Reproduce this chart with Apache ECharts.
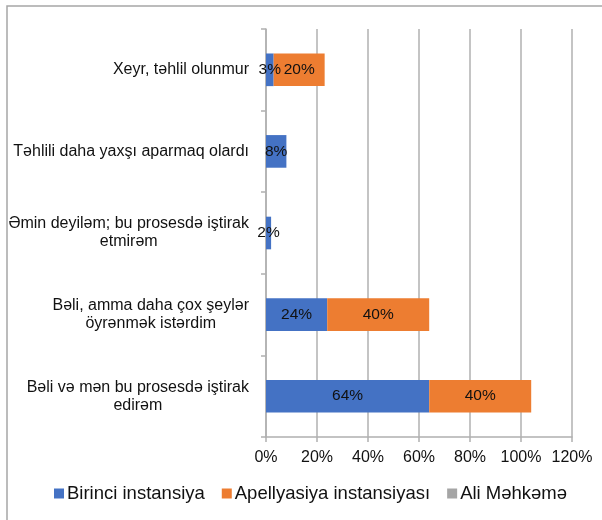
<!DOCTYPE html>
<html>
<head>
<meta charset="utf-8">
<script src="https://cdn.jsdelivr.net/npm/echarts@6/dist/echarts.min.js"></script>
<style>
  html, body { margin: 0; padding: 0; background: #fff; }
  #chart { width: 602px; height: 520px; }
</style>
</head>
<body>
<div id="chart"></div>
<script>
// Answer categories, listed bottom to top as the category axis draws them
const categories = [
  'Bəli və mən bu prosesdə iştirak\nedirəm',
  'Bəli, amma daha çox şeylər\nöyrənmək istərdim',
  'Əmin deyiləm; bu prosesdə iştirak\netmirəm',
  'Təhlili daha yaxşı aparmaq olardı',
  'Xeyr, təhlil olunmur'
];

// Series names
const seriesNames = ['Birinci instansiya', 'Apellyasiya instansiyası', 'Ali Məhkəmə'];

// Percent shares per court level (null = no answer recorded)
const birinciValues = [64, 24, 2, 8, 3];
const apellyasiyaValues = [40, 40, null, null, 20];
const aliValues = [null, null, null, null, null];

// Value axis ticks
const axisMin = 0;
const axisMax = 120;
const axisStep = 20;

const FONT = "'Liberation Sans', Arial, sans-serif";
const TEXT = '#111111';
const GRID = '#b0b0b0';
const colors = ['#4472C4', '#ED7D31', '#A5A5A5'];

const chart = echarts.init(document.getElementById('chart'), null, { renderer: 'canvas' });

function makeSeries(name, values, color) {
  return {
    name: name,
    type: 'bar',
    stack: 'total',
    data: values,
    barCategoryGap: '60%',
    itemStyle: { color: color },
    label: {
      show: true,
      position: 'inside',
      color: TEXT,
      fontFamily: FONT,
      fontSize: 15.5,
      formatter: function (p) {
        return (p.value === null || p.value === undefined || p.value === 0) ? '' : p.value + '%';
      }
    },
    emphasis: { disabled: true }
  };
}

chart.setOption({
  animation: false,
  backgroundColor: '#ffffff',
  textStyle: { fontFamily: FONT },
  color: colors,
  grid: { left: 266, right: 30, top: 29, bottom: 83, containLabel: false },
  legend: {
    data: seriesNames,
    top: 484,
    left: 54,
    padding: [0, 0, 0, 0],
    icon: 'rect',
    itemWidth: 10,
    itemHeight: 10,
    itemGap: 17,
    textStyle: { fontFamily: FONT, fontSize: 18.5, color: TEXT, padding: [0, 0, 0, -2] }
  },
  xAxis: {
    type: 'value',
    min: axisMin,
    max: axisMax,
    interval: axisStep,
    axisLine: { show: true, lineStyle: { color: GRID, width: 1.5 } },
    axisTick: { show: true, length: 5, lineStyle: { color: GRID, width: 1.5 } },
    splitLine: { show: true, lineStyle: { color: GRID, width: 1.5 } },
    axisLabel: {
      formatter: '{value}%',
      fontFamily: FONT,
      fontSize: 16,
      color: TEXT,
      margin: 13
    }
  },
  yAxis: {
    type: 'category',
    data: categories,
    axisLine: { show: true, lineStyle: { color: GRID, width: 1.5 } },
    axisTick: { show: true, length: 5, lineStyle: { color: GRID, width: 1.5 } },
    splitLine: { show: false },
    axisLabel: {
      margin: 17,
      align: 'right',
      fontFamily: FONT,
      fontSize: 16,
      color: TEXT,
      lineHeight: 18,
      formatter: function (v) {
        return v.split('\n').map(function (l) { return '{c|' + l + '}'; }).join('\n');
      },
      rich: {
        c: { align: 'center', fontFamily: FONT, fontSize: 16, color: TEXT, lineHeight: 18 }
      }
    }
  },
  graphic: [
    {
      type: 'rect',
      silent: true,
      z: -1,
      shape: { x: 7, y: 6, width: 700, height: 600 },
      style: { fill: null, stroke: '#a6a6a6', lineWidth: 1.5 }
    }
  ],
  series: [
    makeSeries(seriesNames[0], birinciValues, colors[0]),
    makeSeries(seriesNames[1], apellyasiyaValues, colors[1]),
    makeSeries(seriesNames[2], aliValues, colors[2])
  ]
});
</script>
</body>
</html>
